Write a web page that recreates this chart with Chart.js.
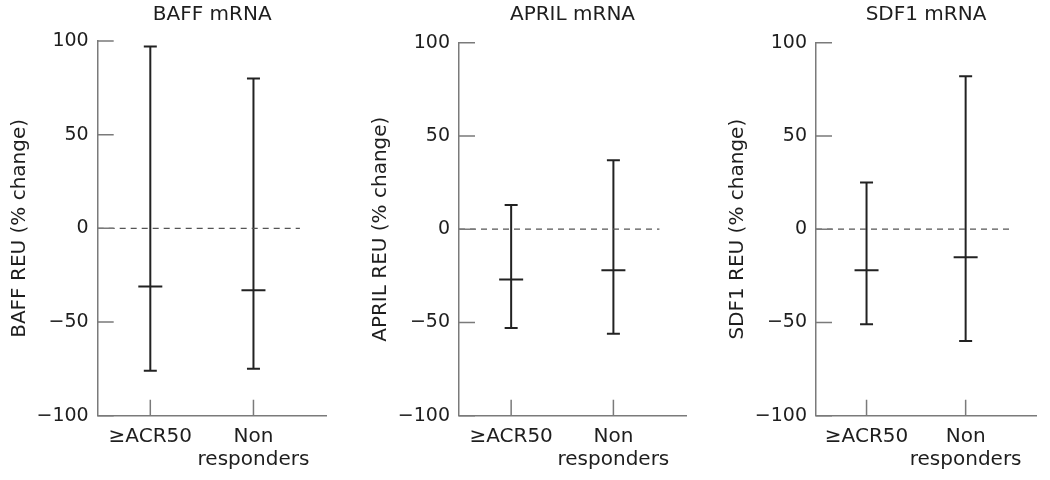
<!DOCTYPE html>
<html>
<head>
<meta charset="utf-8">
<script src="https://cdn.jsdelivr.net/npm/chart.js@4.4.1/dist/chart.umd.min.js"></script>
<style>
  html, body { margin: 0; padding: 0; background: #ffffff; }
  #wrap { position: relative; width: 1050px; height: 480px; overflow: hidden; }
  canvas { position: absolute; top: 0; }
</style>
</head>
<body>
<div id="wrap">
  <canvas id="c1" width="350" height="480" style="left:0px"></canvas>
  <canvas id="c2" width="350" height="480" style="left:350px"></canvas>
  <canvas id="c3" width="350" height="480" style="left:700px"></canvas>
</div>
<script>
// ---- data ----
const groups = ['≥ACR50', ['Non', 'responders']];
const yTickValues = [-100, -50, 0, 50, 100];

const baffLow = [-76, -75];
const baffMedian = [-31, -33];
const baffHigh = [97, 80];

const aprilLow = [-53, -56];
const aprilMedian = [-27, -22];
const aprilHigh = [13, 37];

const sdf1Low = [-51, -60];
const sdf1Median = [-22, -15];
const sdf1High = [25, 82];

const panelTitles = ['BAFF mRNA', 'APRIL mRNA', 'SDF1 mRNA'];
const axisTitles = ['BAFF REU (% change)', 'APRIL REU (% change)', 'SDF1 REU (% change)'];

// ---- style ----
Chart.defaults.font.family = "'DejaVu Sans', sans-serif";
Chart.defaults.color = '#1e1e1e';
const AXIS_COLOR = '#7a7a7a';
const BAR_COLOR = '#222222';
const X_MIN = 0.49, X_MAX = 2.71, ZERO_END = 2.45;

const innerTicks = {
  id: 'innerTicks',
  afterDraw(chart) {
    const ctx = chart.ctx, a = chart.chartArea;
    const ys = chart.scales.y, xs = chart.scales.x;
    ctx.save();
    ctx.strokeStyle = AXIS_COLOR;
    ctx.lineWidth = 1.5;
    ctx.beginPath();
    yTickValues.forEach(v => {
      const py = ys.getPixelForValue(v);
      ctx.moveTo(a.left, py); ctx.lineTo(a.left + 16, py);
    });
    groups.forEach((g, i) => {
      const px = xs.getPixelForValue(i + 1);
      ctx.moveTo(px, a.bottom); ctx.lineTo(px, a.bottom - 16);
    });
    ctx.stroke();
    ctx.restore();
  }
};

function makeChart(id, idx, low, med, high, padLeft, padRight, chartTop) {
  const datasets = [];
  // zero reference line
  datasets.push({
    type: 'line',
    data: [{x: X_MIN, y: 0}, {x: ZERO_END, y: 0}],
    borderColor: '#555555', borderWidth: 1.2, borderDash: [6, 5],
    pointRadius: 0, fill: false
  });
  // whiskers
  groups.forEach((g, i) => {
    datasets.push({
      type: 'line',
      data: [{x: i + 1, y: low[i]}, {x: i + 1, y: high[i]}],
      borderColor: BAR_COLOR, borderWidth: 2, pointRadius: 0, fill: false
    });
  });
  // caps
  datasets.push({
    type: 'scatter',
    data: groups.flatMap((g, i) => [{x: i + 1, y: low[i]}, {x: i + 1, y: high[i]}]),
    pointStyle: 'line', pointRadius: 6.5, pointBorderWidth: 2,
    borderColor: BAR_COLOR, backgroundColor: BAR_COLOR
  });
  // medians
  datasets.push({
    type: 'scatter',
    data: groups.map((g, i) => ({x: i + 1, y: med[i]})),
    pointStyle: 'line', pointRadius: 12, pointBorderWidth: 2,
    borderColor: BAR_COLOR, backgroundColor: BAR_COLOR
  });

  return new Chart(document.getElementById(id), {
    type: 'scatter',
    data: { datasets },
    plugins: [innerTicks],
    options: {
      responsive: false,
      animation: false,
      events: [],
      layout: { padding: { left: padLeft, right: padRight, top: 0, bottom: 0 } },
      plugins: {
        legend: { display: false },
        tooltip: { enabled: false },
        title: {
          display: true, text: panelTitles[idx], fullSize: false,
          font: { size: 20, weight: 'normal', lineHeight: 1.2 },
          color: '#1e1e1e',
          padding: { top: 3, bottom: chartTop - 27 }
        }
      },
      scales: {
        x: {
          type: 'linear', min: X_MIN, max: X_MAX,
          afterBuildTicks: s => { s.ticks = groups.map((g, i) => ({ value: i + 1 })); },
          afterFit: s => { s.height = 480 - 415.7; },
          grid: { display: true, drawOnChartArea: false, drawTicks: false },
          border: { display: true, color: AXIS_COLOR, width: 1.5 },
          ticks: {
            autoSkip: false, maxRotation: 0, padding: 10,
            font: { size: 20, lineHeight: 1.15 }, color: '#1e1e1e',
            callback: v => groups[Math.round(v) - 1]
          }
        },
        y: {
          type: 'linear', min: -100, max: 100,
          afterBuildTicks: s => { s.ticks = yTickValues.map(v => ({ value: v })); },
          afterFit: s => { s.width = 90; },
          grid: { display: true, drawOnChartArea: false, drawTicks: false },
          border: { display: true, color: AXIS_COLOR, width: 1.5 },
          ticks: {
            padding: 9, font: { size: 19 }, color: '#1e1e1e',
            callback: v => (v < 0 ? '\u2212' + Math.abs(v) : String(v))
          },
          title: {
            display: true, text: axisTitles[idx],
            font: { size: 20, lineHeight: 1.2 }, color: '#1e1e1e',
            padding: { top: 0, bottom: 0 }
          }
        }
      }
    }
  });
}

makeChart('c1', 0, baffLow, baffMedian, baffHigh, 7.7, 23.3, 41);
makeChart('c2', 1, aprilLow, aprilMedian, aprilHigh, 19, 12, 42.7);
makeChart('c3', 2, sdf1Low, sdf1Median, sdf1High, 26, 7, 42.7);
</script>
</body>
</html>
